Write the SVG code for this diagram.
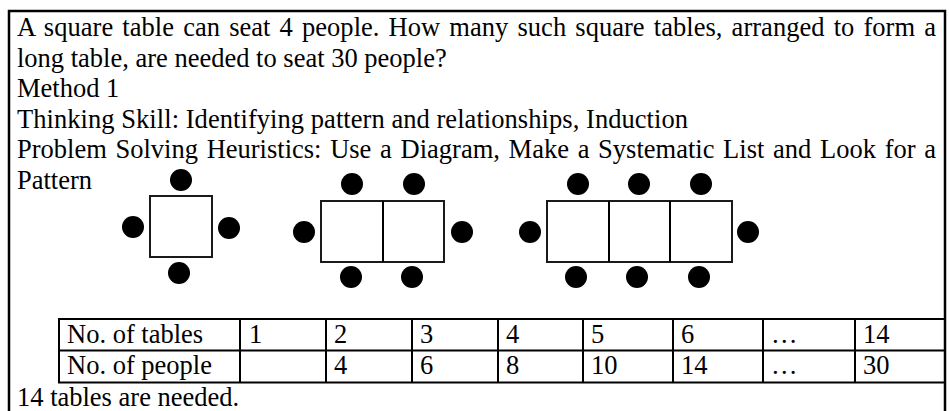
<svg xmlns="http://www.w3.org/2000/svg" width="949" height="411" viewBox="0 0 949 411">
<style>
text{font-family:"Liberation Serif","Times New Roman",serif;font-size:26.5px;fill:#000}
.frame{fill:none;stroke:#000;stroke-width:2.5}
.tbl{fill:#fff;stroke:#1a1a1a;stroke-width:2}
.seat{fill:#000}
.grid{fill:none;stroke:#000;stroke-width:2}
</style>
<rect width="949" height="411" fill="#fff"/>
<rect class="frame" x="9" y="11" width="936" height="430"/>
<g id="problem-text">
<text x="17" y="36" word-spacing="2.5" textLength="919" lengthAdjust="spacing">A square table can seat 4 people. How many such square tables, arranged to form a</text>
<text x="17" y="66.5">long table, are needed to seat 30 people?</text>
<text x="17" y="97">Method 1</text>
<text x="17" y="127.5" textLength="671" lengthAdjust="spacing">Thinking Skill: Identifying pattern and relationships, Induction</text>
<text x="17" y="158" word-spacing="2.1" textLength="919" lengthAdjust="spacing">Problem Solving Heuristics: Use a Diagram, Make a Systematic List and Look for a</text>
<text x="17" y="188.5">Pattern</text>
</g>
<g id="one-table">
<rect class="tbl" x="150" y="196" width="62" height="61"/>
<circle class="seat" cx="181" cy="180" r="11"/>
<circle class="seat" cx="133" cy="227" r="11"/>
<circle class="seat" cx="229" cy="228" r="11"/>
<circle class="seat" cx="179" cy="273" r="11"/>
</g>
<g id="two-tables">
<rect class="tbl" x="321" y="201" width="123" height="61"/>
<line class="grid" x1="383" y1="201" x2="383" y2="262"/>
<circle class="seat" cx="352" cy="184" r="11"/>
<circle class="seat" cx="414" cy="184" r="11"/>
<circle class="seat" cx="304" cy="232" r="11"/>
<circle class="seat" cx="462" cy="232" r="11"/>
<circle class="seat" cx="351" cy="277" r="11"/>
<circle class="seat" cx="412" cy="277" r="11"/>
</g>
<g id="three-tables">
<rect class="tbl" x="547" y="201" width="185" height="61"/>
<line class="grid" x1="609" y1="201" x2="609" y2="262"/>
<line class="grid" x1="670" y1="201" x2="670" y2="262"/>
<circle class="seat" cx="578" cy="184" r="11"/>
<circle class="seat" cx="639" cy="184" r="11"/>
<circle class="seat" cx="701" cy="184" r="11"/>
<circle class="seat" cx="530" cy="232" r="11"/>
<circle class="seat" cx="748" cy="232" r="11"/>
<circle class="seat" cx="576" cy="277" r="11"/>
<circle class="seat" cx="637" cy="277" r="11"/>
<circle class="seat" cx="699" cy="277" r="11"/>
</g>
<g id="data-table">
<rect class="grid" x="59" y="319" width="886" height="63.5"/>
<line class="grid" x1="59" y1="350.5" x2="945" y2="350.5"/>
<line class="grid" x1="240" y1="319" x2="240" y2="382.5"/>
<line class="grid" x1="326" y1="319" x2="326" y2="382.5"/>
<line class="grid" x1="412" y1="319" x2="412" y2="382.5"/>
<line class="grid" x1="498" y1="319" x2="498" y2="382.5"/>
<line class="grid" x1="583" y1="319" x2="583" y2="382.5"/>
<line class="grid" x1="673" y1="319" x2="673" y2="382.5"/>
<line class="grid" x1="763" y1="319" x2="763" y2="382.5"/>
<line class="grid" x1="855" y1="319" x2="855" y2="382.5"/>
<text x="67" y="343">No. of tables</text>
<text x="249" y="343">1</text>
<text x="334" y="343">2</text>
<text x="420" y="343">3</text>
<text x="506" y="343">4</text>
<text x="591" y="343">5</text>
<text x="681" y="343">6</text>
<text x="771" y="343">…</text>
<text x="863" y="343">14</text>
<text x="67" y="374">No. of people</text>
<text x="334" y="374">4</text>
<text x="420" y="374">6</text>
<text x="506" y="374">8</text>
<text x="591" y="374">10</text>
<text x="681" y="374">14</text>
<text x="771" y="374">…</text>
<text x="863" y="374">30</text>
</g>
<text x="17" y="406">14 tables are needed.</text>
</svg>
